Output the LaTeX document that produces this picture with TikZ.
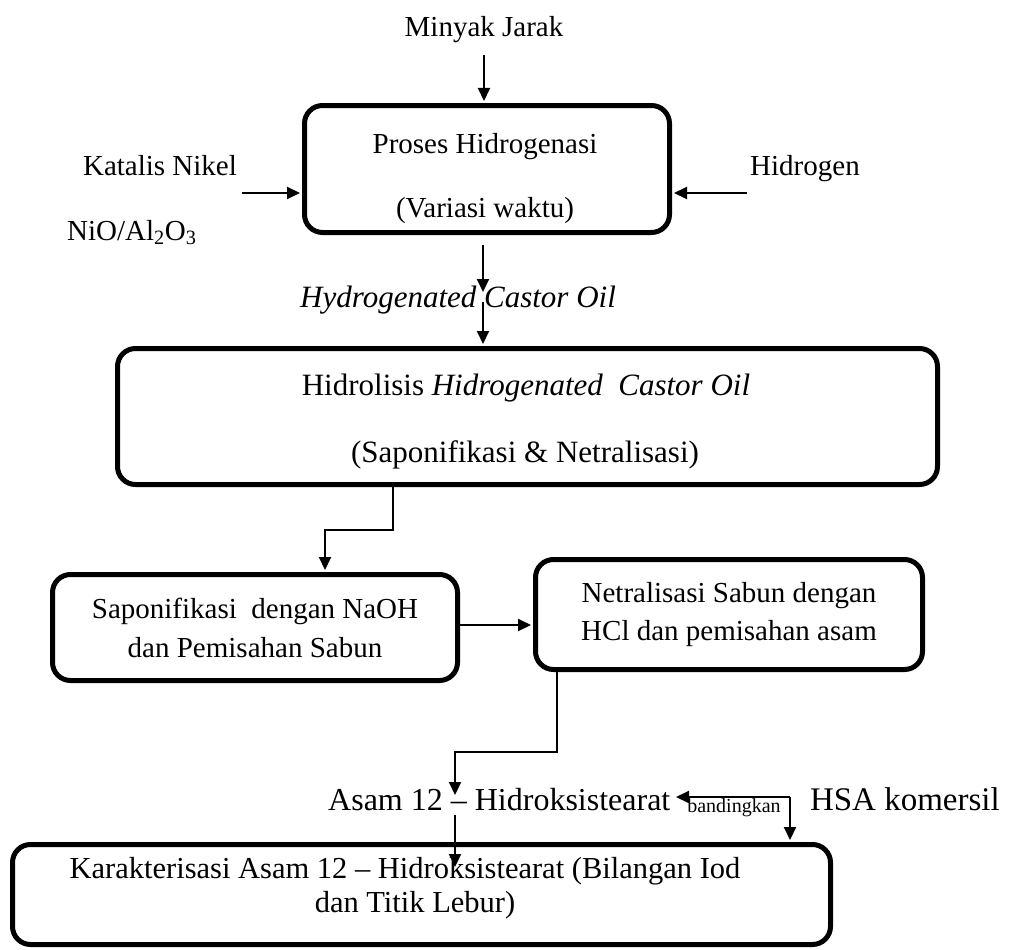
\documentclass[tikz,border=0pt]{standalone}
\usepackage{fontspec}
\setmainfont{Liberation Serif}
\usetikzlibrary{arrows.meta}
\begin{document}
\begin{tikzpicture}[x=1pt,y=-1pt,
  box/.style={draw=black, line width=5pt, rounded corners=18pt, inner sep=0pt},
  lbl/.style={anchor=base, inner sep=0pt, font=\fontsize{29}{34}\selectfont},
  big/.style={font=\fontsize{31}{36}\selectfont},
  arr/.style={line width=2pt, -{Triangle[length=13pt,width=12pt]}, shorten >=2pt},
  ln/.style={line width=2pt}]
\useasboundingbox (0,0) rectangle (1015,950);
% boxes
\node[box, minimum width=365pt, minimum height=127pt] (b1) at (487,169) {};
\node[box, minimum width=820pt, minimum height=136pt] (b2) at (527.5,416.5) {};
\node[box, minimum width=405pt, minimum height=106pt] (b3) at (255,627.5) {};
\node[box, minimum width=387pt, minimum height=110pt] (b4) at (729,614.5) {};
\node[box, minimum width=818pt, minimum height=100pt] (b5) at (421.5,894.5) {};
% texts
\node[lbl] (mj) at (484,37) {Minyak Jarak};
\node[lbl] (t1a) at (485,153) {Proses Hidrogenasi};
\node[lbl] (t1b) at (485,217) {(Variasi waktu)};
\node[lbl] (kn) at (160,175) {Katalis Nikel};
\node[lbl, anchor=base west] (nio) at (67,240) {NiO/Al\textsubscript{2}O\textsubscript{3}};
\node[lbl] (hg) at (805,175) {Hidrogen};
\node[lbl, big, anchor=base west] (hco) at (300,307) {\itshape Hydrogenated Castor Oil};
\node[lbl, big] (t2a) at (526,395) {Hidrolisis \textit{Hidrogenated\ \ Castor Oil}};
\node[lbl, big] (t2b) at (525,462) {(Saponifikasi \& Netralisasi)};
\node[lbl] (t3a) at (255,618) {Saponifikasi\ \ dengan NaOH};
\node[lbl] (t3b) at (255,657) {dan Pemisahan Sabun};
\node[lbl] (t4a) at (729,602) {Netralisasi Sabun dengan};
\node[lbl] (t4b) at (729,640) {HCl dan pemisahan asam};
\node[lbl, font=\fontsize{32}{36}\selectfont, anchor=base west] (hsa12) at (328,810) {Asam 12 – Hidroksistearat};
\node[lbl, font=\fontsize{20}{24}\selectfont] (band) at (734,812) {bandingkan};
\node[lbl, font=\fontsize{33}{38}\selectfont, anchor=base east] (hsak) at (1000,810) {HSA komersil};
\node[lbl, font=\fontsize{30.5}{36}\selectfont] (t5a) at (405,878) {Karakterisasi Asam 12 – Hidroksistearat (Bilangan Iod};
\node[lbl, font=\fontsize{30.5}{36}\selectfont] (t5b) at (415,912) {dan Titik Lebur)};
% connector points
\coordinate (c1) at (484,55);
\coordinate (c2) at (242,193);
\coordinate (c3) at (747,193);
\coordinate (c4a) at (483,245);
\coordinate (c4) at (483,294);
\coordinate (c5) at (483,302);
\coordinate (c6) at (393,530);
\coordinate (c7) at (325,530);
\coordinate (c8) at (0,625);
\coordinate (c9) at (557,752);
\coordinate (c10) at (455,752);
\coordinate (c11) at (455,797);
\coordinate (c12) at (455,815);
\coordinate (c13) at (455,869);
\coordinate (c14) at (790,797);
\coordinate (c15) at (674,797);
% connectors
\draw[arr] (c1) -- (c1 |- b1.north);
\draw[arr] (c2) -- (c2 -| b1.west);
\draw[arr] (c3) -- (c3 -| b1.east);
\draw[arr] (c4a) -- (c4);
\draw[arr] (c5) -- (c5 |- b2.north);
\draw[arr] (c6 |- b2.south) -- (c6) -- (c7) -- (c7 |- b3.north);
\draw[arr] (c8 -| b3.east) -- (c8 -| b4.west);
\draw[arr] (c9 |- b4.south) -- (c9) -- (c10) -- (c11);
\draw[arr] (c12) -- (c13);
\draw[arr] (c14) -- (c15);
\draw[arr] (c14) -- (c14 |- b5.north);
\end{tikzpicture}
\end{document}
